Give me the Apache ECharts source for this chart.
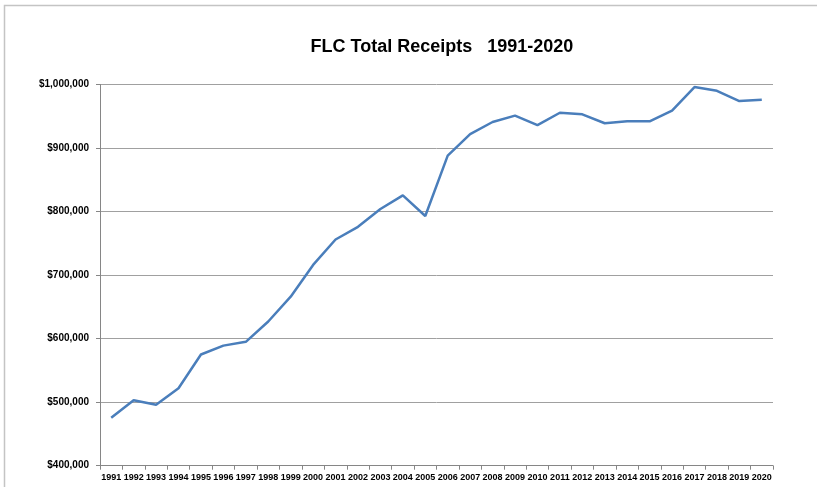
<!DOCTYPE html>
<html>
<head>
<meta charset="utf-8">
<script src="https://cdn.jsdelivr.net/npm/echarts@6/dist/echarts.min.js"></script>
<style>
html,body{margin:0;padding:0;background:#fff;}
#chart{width:817px;height:487px;}
</style>
</head>
<body>
<div id="chart"></div>
<script>
const years = ['1991','1992','1993','1994','1995','1996','1997','1998','1999','2000',
  '2001','2002','2003','2004','2005','2006','2007','2008','2009','2010',
  '2011','2012','2013','2014','2015','2016','2017','2018','2019','2020'];
const receipts = [475500, 503000, 496000, 522000, 575000, 589000, 595000, 627000, 666000, 716000,
  756000, 776000, 804000, 825500, 793000, 888000, 922000, 941000, 951000, 936000,
  955500, 953000, 939000, 942000, 942000, 959000, 996000, 990000, 974000, 976000];
const yTicks = [400000, 500000, 600000, 700000, 800000, 900000, 1000000];
const titleText = 'FLC Total Receipts   1991-2020';

const chart = echarts.init(document.getElementById('chart'), null, {renderer: 'canvas'});
chart.setOption({
  animation: false,
  backgroundColor: '#ffffff',
  graphic: [{
    type: 'rect',
    shape: {x: 4.5, y: 5.5, width: 900, height: 600},
    style: {fill: 'none', stroke: '#c4c4c4', lineWidth: 1.5},
    silent: true, z: -1
  }],
  title: {
    text: titleText,
    left: 437, top: 33, textAlign: 'center',
    textStyle: {fontFamily: 'Liberation Sans', fontWeight: 'bold', fontSize: 18, color: '#000'}
  },
  grid: {left: 100, right: 44, top: 84.5, bottom: 21.3, containLabel: false},
  xAxis: {
    type: 'category',
    data: years,
    boundaryGap: true,
    axisLine: {lineStyle: {color: '#868686', width: 1}},
    axisTick: {show: true, length: 4, lineStyle: {color: '#868686'}},
    axisLabel: {interval: 0, margin: 7, fontFamily: 'Liberation Sans', fontWeight: 'bold', fontSize: 9, color: '#000'},
    splitLine: {show: false}
  },
  yAxis: {
    type: 'value',
    min: 400000, max: 1000000, interval: 100000,
    axisLine: {show: true, lineStyle: {color: '#868686', width: 1}},
    axisTick: {show: true, length: 4, lineStyle: {color: '#868686'}},
    axisLabel: {
      margin: 11, fontFamily: 'Liberation Sans', fontWeight: 'bold', fontSize: 10, color: '#000',
      formatter: v => yTicks.includes(v) ? '$' + v.toLocaleString('en-US') : ''
    },
    splitLine: {show: true, lineStyle: {color: '#a0a0a0', width: 1}}
  },
  series: [{
    type: 'line',
    data: receipts,
    showSymbol: false,
    symbol: 'none',
    lineStyle: {color: '#4a7ebb', width: 2.5},
    z: 3
  }]
});
</script>
</body>
</html>
